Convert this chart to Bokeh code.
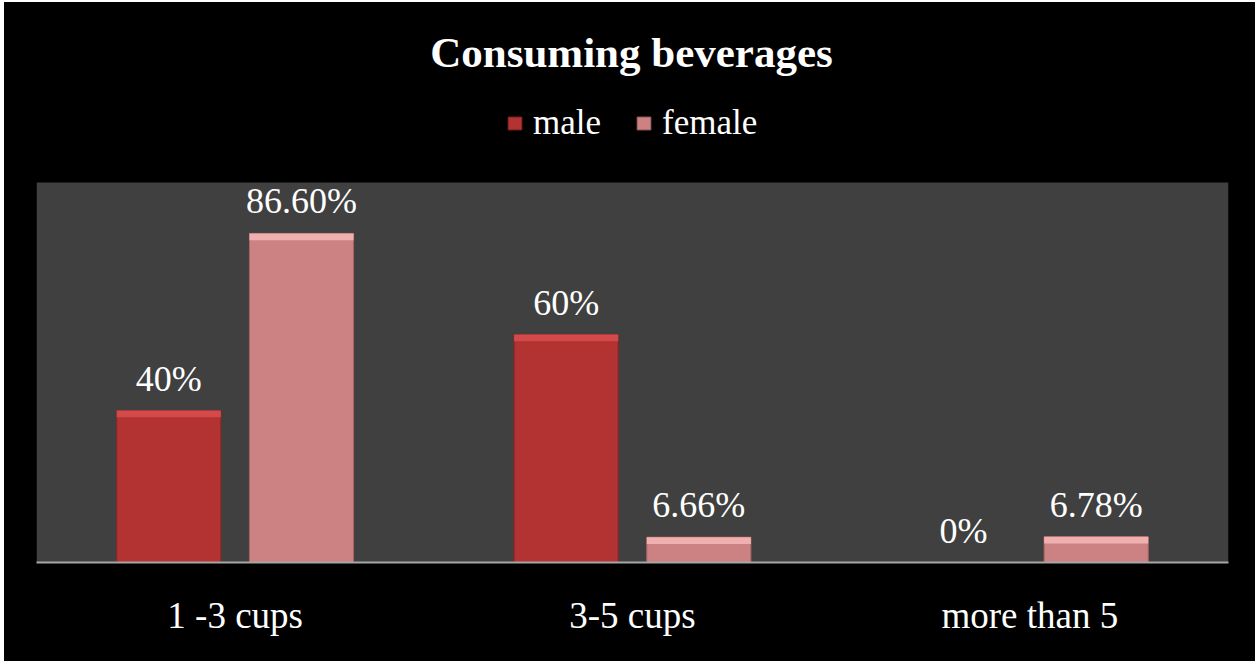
from bokeh.plotting import figure
from bokeh.models import ColumnDataSource, FactorRange, Range1d, Legend, LegendItem, Label, BoxAnnotation
from bokeh.transform import dodge
from bokeh.core.properties import value
from bokeh.embed import file_html
from bokeh.resources import INLINE

categories = ["1 -3 cups", "3-5 cups", "more than 5"]
male = [40, 60, 0]
female = [86.6, 6.66, 6.78]
male_labels = ["40%", "60%", "0%"]
female_labels = ["86.60%", "6.66%", "6.78%"]

BAND = 1.8
src = ColumnDataSource(dict(
    cat=categories,
    male=male,
    female=female,
    male_hl=[v - BAND if v > 0 else 0 for v in male],
    female_hl=[v - BAND if v > 0 else 0 for v in female],
    male_lbl=male_labels,
    female_lbl=female_labels,
))

SERIF = "Liberation Serif"
AXIS_MAX = 100
# frame spans from canvas top to baseline; plot area (gray) covers 0..AXIS_MAX
Y_TOP = AXIS_MAX * 560 / 380

p = figure(
    width=1251, height=659, margin=(2, 0, 0, 4),
    x_range=FactorRange(*categories), y_range=Range1d(0, Y_TOP),
    output_backend="svg", toolbar_location=None, y_axis_location=None,
    background_fill_color=None, border_fill_color=None,
    styles={"background-color": "#000000"},
    min_border_left=32, min_border_right=27, min_border_top=0, min_border_bottom=99,
)
p.outline_line_color = None
p.grid.visible = False

p.add_layout(BoxAnnotation(bottom=0, top=AXIS_MAX, fill_color="#404040", fill_alpha=1,
                           line_color=None, level="underlay"))

bw = 0.262
off = 0.167
rm = p.vbar(x=dodge("cat", -off, range=p.x_range), top="male", bottom=0, width=bw, source=src,
            fill_color="#b33232", line_color="#8c2424", line_width=1)
p.vbar(x=dodge("cat", -off, range=p.x_range), top="male", bottom="male_hl", width=bw, source=src,
       fill_color="#d24a4a", line_color=None)
rf = p.vbar(x=dodge("cat", off, range=p.x_range), top="female", bottom=0, width=bw, source=src,
            fill_color="#cc8282", line_color="#a86464", line_width=1)
p.vbar(x=dodge("cat", off, range=p.x_range), top="female", bottom="female_hl", width=bw, source=src,
       fill_color="#f0b0b0", line_color=None)

for col, lbl in (("male", "male_lbl"), ("female", "female_lbl")):
    d = -off if col == "male" else off
    p.text(x=dodge("cat", d, range=p.x_range), y=col, text=lbl, source=src,
           y_offset=-32, text_align="center", text_baseline="middle",
           text_font=value(SERIF), text_font_size="36px", text_color="#ffffff")

ax = p.xaxis[0]
ax.axis_line_color = "#a6a6a6"
ax.axis_line_width = 2
ax.major_tick_line_color = None
ax.minor_tick_line_color = None
ax.major_label_text_font = SERIF
ax.major_label_text_font_size = "37px"
ax.major_label_text_color = "#ffffff"
ax.major_label_standoff = 26

p.add_layout(Label(x=595, y=510, x_units="screen", y_units="screen", text="Consuming beverages",
                   text_align="center", text_baseline="middle", text_font=SERIF,
                   text_font_size="43px", text_font_style="bold", text_color="#ffffff"))

legend = Legend(items=[LegendItem(label="male", renderers=[rm]),
                       LegendItem(label="female", renderers=[rf])],
                location=(470, 419), orientation="horizontal",
                label_text_font=SERIF, label_text_font_size="35px", label_text_color="#ffffff",
                glyph_width=17, glyph_height=16, label_standoff=10, spacing=34,
                padding=0, margin=0, background_fill_alpha=0, border_line_alpha=0)
p.add_layout(legend, "center")

open("out.html", "w").write(file_html(p, INLINE))
